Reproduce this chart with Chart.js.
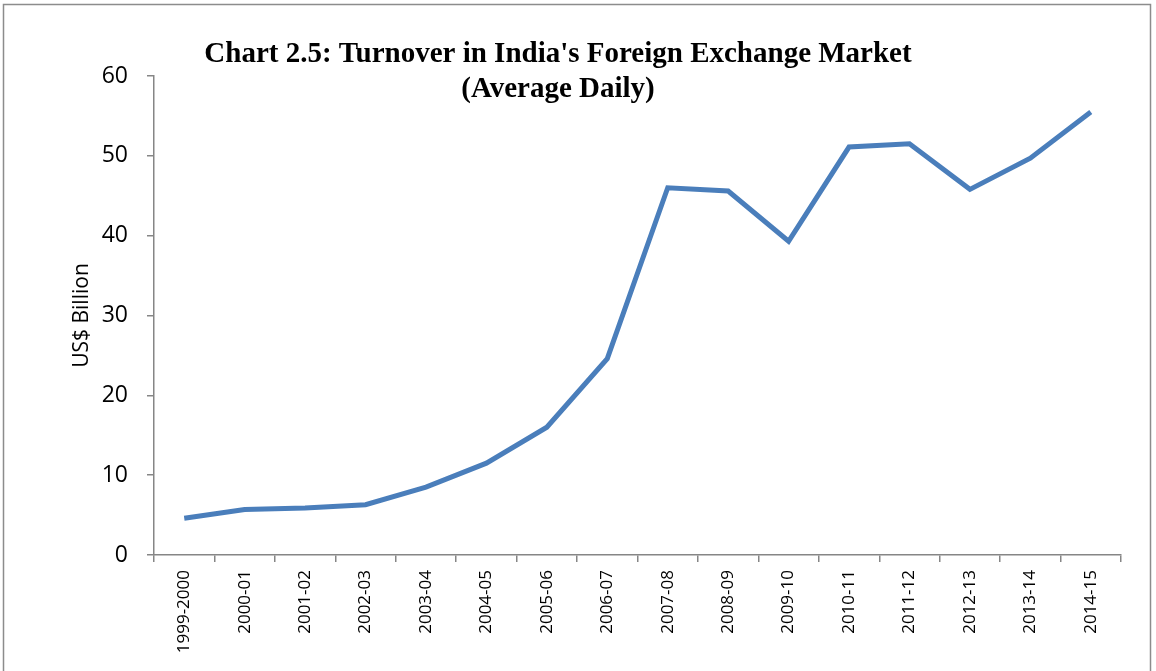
<!DOCTYPE html>
<html>
<head>
<meta charset="utf-8">
<script src="https://cdn.jsdelivr.net/npm/chart.js@4/dist/chart.umd.min.js"></script>
<style>
  html, body { margin: 0; padding: 0; background: #fff; }
  #wrap { width: 1156px; height: 671px; position: relative; }
</style>
</head>
<body>
<div id="wrap"><canvas id="fxChart" width="1156" height="671"></canvas></div>
<script>
// data
const years = ['1999-2000', '2000-01', '2001-02', '2002-03', '2003-04', '2004-05', '2005-06', '2006-07',
               '2007-08', '2008-09', '2009-10', '2010-11', '2011-12', '2012-13', '2013-14', '2014-15'];
const turnover = [4.6, 5.7, 5.9, 6.3, 8.5, 11.5, 16.0, 24.6, 46.0, 45.6, 39.3, 51.1, 51.5, 45.8, 49.7, 55.5];
const yTicks = [0, 10, 20, 30, 40, 50, 60];

const titleLines = ["Chart 2.5: Turnover in India's Foreign Exchange Market", "(Average Daily)"];

const axisGrey = '#868686';

// frame + two-line title drawn on top of the plot, like the original
const framePlugin = {
    id: 'frame',
    beforeDraw(chart) {
        const c = chart.ctx;
        c.save();
        c.strokeStyle = '#8c8c8c';
        c.lineWidth = 1.5;
        c.strokeRect(3.5, 4.5, 1147, 680);
        c.restore();
    },
    afterDraw(chart) {
        const c = chart.ctx;
        c.save();
        c.fillStyle = '#000';
        c.font = 'bold 29px "Liberation Serif", "Times New Roman", serif';
        c.textAlign = 'center';
        c.textBaseline = 'middle';
        c.fillText(titleLines[0], 558, 55);
        c.fillText(titleLines[1], 558, 90);
        c.restore();
    }
};

const ctx = document.getElementById('fxChart').getContext('2d');

const fxChart = new Chart(ctx, {
    type: 'line',
    data: {
        labels: years,
        datasets: [{
            label: 'Turnover',
            data: turnover,
            borderColor: '#4a7ebb',
            borderWidth: 5,
            pointRadius: 0,
            tension: 0,
            fill: false
        }]
    },
    options: {
        responsive: false,
        animation: false,
        layout: { padding: { left: 0, right: 35, top: 76, bottom: 0 } },
        plugins: {
            legend: { display: false },
            tooltip: { enabled: false }
        },
        scales: {
            x: {
                offset: true,
                grid: {
                    offset: true,
                    drawOnChartArea: false,
                    drawTicks: true,
                    tickLength: 7,
                    color: axisGrey,
                    lineWidth: 1.5
                },
                border: { color: axisGrey, width: 1.5 },
                ticks: {
                    autoSkip: false,
                    maxRotation: 90,
                    minRotation: 90,
                    padding: 8,
                    color: '#000',
                    font: { family: '"Open Sans", sans-serif', size: 17 }
                },
                afterFit(scale) { scale.height = 116; }
            },
            y: {
                min: 0,
                max: 60,
                afterBuildTicks(scale) { scale.ticks = yTicks.map(v => ({ value: v })); },
                grid: {
                    drawOnChartArea: false,
                    drawTicks: true,
                    tickLength: 7,
                    color: axisGrey,
                    lineWidth: 1.5
                },
                border: { color: axisGrey, width: 1.5 },
                ticks: {
                    padding: 19,
                    color: '#000',
                    font: { family: '"Open Sans", sans-serif', size: 23 }
                },
                title: {
                    display: true,
                    text: 'US$ Billion',
                    color: '#000',
                    font: { family: '"Open Sans", sans-serif', size: 21 },
                    padding: { top: 69, bottom: 0 }
                },
                afterFit(scale) { scale.width = 154; }
            }
        }
    },
    plugins: [framePlugin]
});
</script>
</body>
</html>
